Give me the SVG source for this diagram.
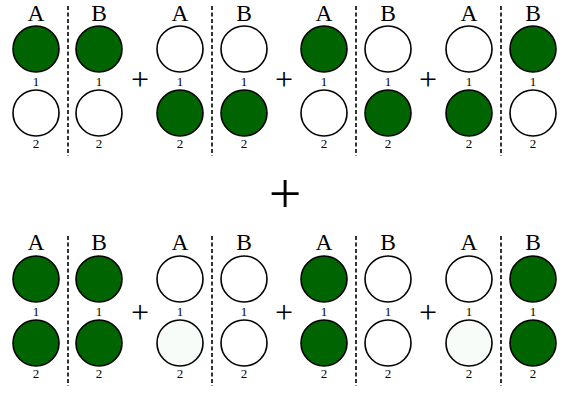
<svg xmlns="http://www.w3.org/2000/svg" width="576" height="393" viewBox="0 0 576 393">
<style>
.c{stroke:#000;stroke-width:1.6}
.g{fill:#006400}
.w{fill:#fff}
.o{fill:#f8fcf8}
.lbl{font-family:"Liberation Serif",serif;font-size:23.5px;text-anchor:middle;fill:#000}
.num{font-family:"Liberation Serif",serif;font-size:13px;text-anchor:middle;fill:#000}
.pl{font-family:"Liberation Serif",serif;font-size:32px;text-anchor:middle;fill:#000}
.big{font-family:"Liberation Serif",serif;font-size:58px;text-anchor:middle;fill:#000}
.d{stroke:#000;stroke-width:1.6;stroke-dasharray:4 2.5;fill:none}
</style>
<g id="dividers">
<line class="d" x1="68" y1="6" x2="68" y2="156"/>
<line class="d" x1="212" y1="6" x2="212" y2="156"/>
<line class="d" x1="356" y1="6" x2="356" y2="156"/>
<line class="d" x1="501" y1="6" x2="501" y2="156"/>
<line class="d" x1="68" y1="236" x2="68" y2="386"/>
<line class="d" x1="212" y1="236" x2="212" y2="386"/>
<line class="d" x1="356" y1="236" x2="356" y2="386"/>
<line class="d" x1="501" y1="236" x2="501" y2="386"/>
</g>
<g id="t1">
<text class="lbl" x="36" y="21">A</text><text class="lbl" x="99" y="21">B</text>
<circle class="c g" cx="36" cy="49" r="23"/><circle class="c w" cx="36" cy="113" r="23"/>
<circle class="c g" cx="99" cy="49" r="23"/><circle class="c w" cx="99" cy="113" r="23"/>
<text class="num" x="36" y="86">1</text><text class="num" x="36" y="148">2</text>
<text class="num" x="99" y="86">1</text><text class="num" x="99" y="148">2</text>
</g>
<g id="t2">
<text class="lbl" x="180" y="21">A</text><text class="lbl" x="244" y="21">B</text>
<circle class="c w" cx="180" cy="49" r="23"/><circle class="c g" cx="180" cy="113" r="23"/>
<circle class="c w" cx="244" cy="49" r="23"/><circle class="c g" cx="244" cy="113" r="23"/>
<text class="num" x="180" y="86">1</text><text class="num" x="180" y="148">2</text>
<text class="num" x="244" y="86">1</text><text class="num" x="244" y="148">2</text>
</g>
<g id="t3">
<text class="lbl" x="324" y="21">A</text><text class="lbl" x="388" y="21">B</text>
<circle class="c g" cx="324" cy="49" r="23"/><circle class="c w" cx="324" cy="113" r="23"/>
<circle class="c w" cx="388" cy="49" r="23"/><circle class="c g" cx="388" cy="113" r="23"/>
<text class="num" x="324" y="86">1</text><text class="num" x="324" y="148">2</text>
<text class="num" x="388" y="86">1</text><text class="num" x="388" y="148">2</text>
</g>
<g id="t4">
<text class="lbl" x="469" y="21">A</text><text class="lbl" x="533" y="21">B</text>
<circle class="c w" cx="469" cy="49" r="23"/><circle class="c g" cx="469" cy="113" r="23"/>
<circle class="c g" cx="533" cy="49" r="23"/><circle class="c w" cx="533" cy="113" r="23"/>
<text class="num" x="469" y="86">1</text><text class="num" x="469" y="148">2</text>
<text class="num" x="533" y="86">1</text><text class="num" x="533" y="148">2</text>
</g>
<g id="plusTop">
<text class="pl" x="140" y="90">+</text>
<text class="pl" x="284" y="90">+</text>
<text class="pl" x="428" y="90">+</text>
</g>
<g id="bigPlus"><text class="big" x="285" y="213">+</text></g>
<g id="b1">
<text class="lbl" x="36" y="250">A</text><text class="lbl" x="99" y="250">B</text>
<circle class="c g" cx="36" cy="279" r="23"/><circle class="c g" cx="36" cy="343" r="23"/>
<circle class="c g" cx="99" cy="279" r="23"/><circle class="c g" cx="99" cy="343" r="23"/>
<text class="num" x="36" y="316">1</text><text class="num" x="36" y="378">2</text>
<text class="num" x="99" y="316">1</text><text class="num" x="99" y="378">2</text>
</g>
<g id="b2">
<text class="lbl" x="180" y="250">A</text><text class="lbl" x="244" y="250">B</text>
<circle class="c w" cx="180" cy="279" r="23"/><circle class="c o" cx="180" cy="343" r="23"/>
<circle class="c w" cx="244" cy="279" r="23"/><circle class="c w" cx="244" cy="343" r="23"/>
<text class="num" x="180" y="316">1</text><text class="num" x="180" y="378">2</text>
<text class="num" x="244" y="316">1</text><text class="num" x="244" y="378">2</text>
</g>
<g id="b3">
<text class="lbl" x="324" y="250">A</text><text class="lbl" x="388" y="250">B</text>
<circle class="c g" cx="324" cy="279" r="23"/><circle class="c g" cx="324" cy="343" r="23"/>
<circle class="c w" cx="388" cy="279" r="23"/><circle class="c w" cx="388" cy="343" r="23"/>
<text class="num" x="324" y="316">1</text><text class="num" x="324" y="378">2</text>
<text class="num" x="388" y="316">1</text><text class="num" x="388" y="378">2</text>
</g>
<g id="b4">
<text class="lbl" x="469" y="250">A</text><text class="lbl" x="533" y="250">B</text>
<circle class="c w" cx="469" cy="279" r="23"/><circle class="c o" cx="469" cy="343" r="23"/>
<circle class="c g" cx="533" cy="279" r="23"/><circle class="c g" cx="533" cy="343" r="23"/>
<text class="num" x="469" y="316">1</text><text class="num" x="469" y="378">2</text>
<text class="num" x="533" y="316">1</text><text class="num" x="533" y="378">2</text>
</g>
<g id="plusBottom">
<text class="pl" x="140" y="323">+</text>
<text class="pl" x="284" y="323">+</text>
<text class="pl" x="428" y="323">+</text>
</g>
</svg>
